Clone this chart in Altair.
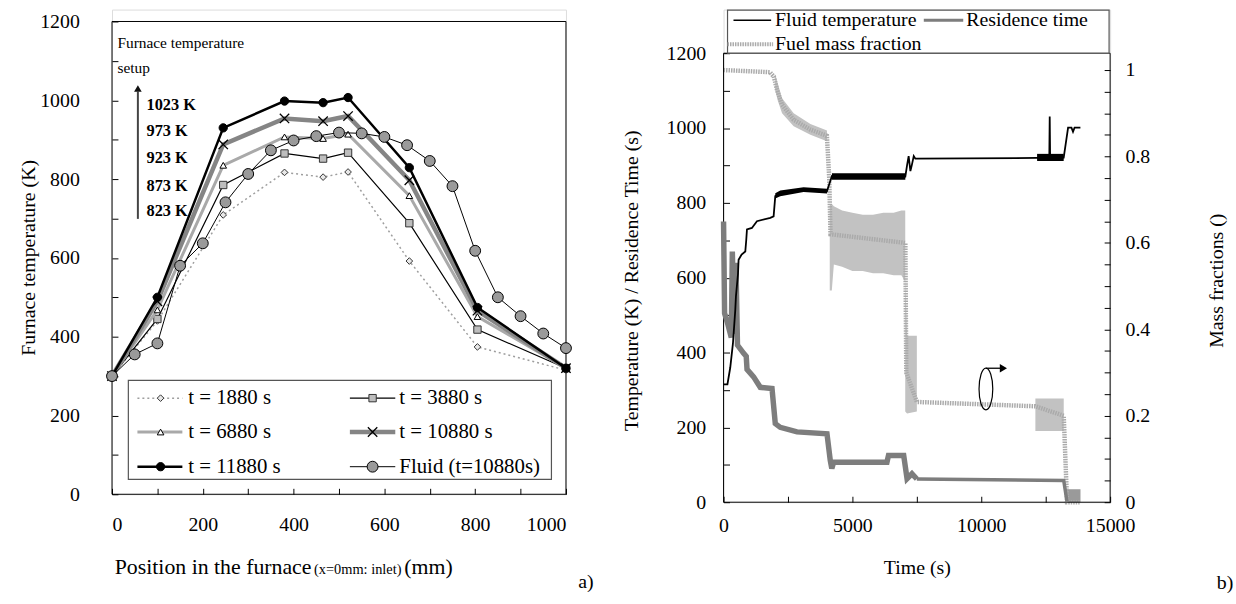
import altair as alt
import pandas as pd

FONT = "Liberation Serif"

# ======================= panel a) values =======================
positions = [0, 100, 245, 380, 465, 520, 655, 805, 1000]
temp_1880 = [300, 440, 709, 817, 805, 818, 592, 374, 315]
temp_3880 = [300, 445, 785, 865, 852, 867, 688, 418, 320]
temp_6880 = [300, 468, 835, 907, 903, 914, 758, 451, 320]
temp_10880 = [300, 490, 888, 954, 947, 960, 797, 466, 320]
temp_11880 = [300, 500, 930, 998, 994, 1007, 829, 474, 320]
fluid_positions = [0, 50, 100, 150, 200, 250, 300, 350, 400, 450, 500,
                   550, 600, 650, 700, 750, 800, 850, 900, 950, 1000]
fluid_temperature = [300, 355, 383, 580, 637, 741, 813, 873, 898, 909, 918,
                     916, 907, 886, 846, 782, 618, 500, 452, 408, 371]
series_labels = ["t = 1880 s", "t = 3880 s", "t = 6880 s",
                 "t = 10880 s", "t = 11880 s", "Fluid (t=10880s)"]
setup_labels = ["1023 K", "973 K", "923 K", "873 K", "823 K"]
setup_title = ["Furnace temperature", "setup"]
xa_title_parts = ["Position in the furnace", "(x=0mm: inlet)", "(mm)"]

# ======================= panel b) values =======================
temp_time = [0, 150, 260, 365, 455, 480, 560, 583, 700, 843, 880, 908, 1100, 1295,
             1813, 1942, 2007, 2200, 2600, 3105, 3500, 4013, 4100, 4207, 7053, 7120,
             7182, 7250, 7312, 7380, 7442, 12166, 12640, 12656, 12672, 13199, 13369,
             13500, 13560, 13620, 13847]
temp_value = [315, 315, 360, 425, 514, 550, 610, 648, 662, 670, 700, 729, 733, 751,
              760, 764, 818, 825, 830, 836, 834, 831, 850, 872, 870, 900,
              925, 885, 903, 925, 918, 920, 920, 1031, 920, 921, 1001,
              1001, 990, 1001, 1001]
temp_noise_seg = [0, 0, 0, 0, 1, 1, 2, 2]
temp_noise_time = [2007, 2200, 3105, 4013, 4207, 7053, 12166, 13199]
temp_noise_low = [812, 818, 829, 825, 862, 862, 912, 912]
temp_noise_high = [826, 833, 842, 838, 879, 879, 931, 931]

res_time = [0, 40, 150, 300, 340, 420, 480, 540, 780, 880, 910, 1165, 1425, 1880, 2007,
            2200, 2850, 4013, 4140, 4200, 4270, 6340, 6400, 6990, 7120, 7310, 7500,
            13200, 13330]
res_value = [750, 505, 480, 440, 670, 450, 640, 420, 398, 390, 355, 335, 307, 304, 210,
             200, 188, 183, 112, 90, 107, 107, 125, 125, 63, 76, 62,
             58, 0]

fuel_time = [0, 1800, 1950, 2070, 2270, 2720, 3370, 4010, 4100, 4150, 7055, 7090,
             7500, 12100, 13200, 13330, 13850]
fuel_frac = [1.0, 0.995, 0.985, 0.955, 0.92, 0.885, 0.862, 0.848, 0.75, 0.62, 0.6, 0.30,
             0.232, 0.222, 0.2, 0.0, 0.0]
fuel_band_seg = [1] * 6 + [2] * 11 + [3] * 3 + [4] * 2
fuel_band_time = [2000, 2100, 2270, 2720, 3370, 4013,
                  4120, 4200, 4280, 4600, 5000, 5400, 5800, 6200, 6600, 6900, 7050,
                  7050, 7120, 7500,
                  12100, 13200]
fuel_band_low = [0.955, 0.93, 0.90, 0.87, 0.85, 0.835,
                 0.49, 0.49, 0.55, 0.545, 0.535, 0.535, 0.53, 0.53, 0.525, 0.525, 0.51,
                 0.21, 0.205, 0.21,
                 0.165, 0.165]
fuel_band_high = [0.99, 0.97, 0.935, 0.90, 0.875, 0.86,
                  0.69, 0.69, 0.685, 0.675, 0.67, 0.665, 0.665, 0.67, 0.67, 0.675, 0.675,
                  0.52, 0.385, 0.385,
                  0.24, 0.24]
tail_time = [13330, 13850]
tail_low = [0.0, 0.0]
tail_high = [0.03, 0.03]
b_legend_labels = ["Fluid temperature", "Residence time", "Fuel mass fraction"]
b_axis_titles = ["Time (s)", "Temperature (K) / Residence Time (s)", "Mass fractions ()"]

# ======================= styles & layout =======================
X_SHAPE = "M-1,-1L1,1M-1,1L1,-1"
ELLIPSE = "M0,-1A0.33,1 0 1,1 0,1A0.33,1 0 1,1 0,-1Z"
STYLE = {
    "t = 1880 s": dict(color="#9e9e9e", width=1.5, dash=[2, 3], shape="diamond",
                       msize=45, mfill="#e8e8e8", mstroke="#333333", mwidth=1),
    "t = 3880 s": dict(color="#000000", width=1.2, dash=None, shape="square",
                       msize=55, mfill="#bdbdbd", mstroke="#333333", mwidth=1),
    "t = 6880 s": dict(color="#a9a9a9", width=3, dash=None, shape="triangle-up",
                       msize=45, mfill="#ffffff", mstroke="#000000", mwidth=1),
    "t = 10880 s": dict(color="#858585", width=4.5, dash=None, shape=X_SHAPE,
                        msize=90, mfill=None, mstroke="#000000", mwidth=1.3),
    "t = 11880 s": dict(color="#000000", width=2.5, dash=None, shape="circle",
                        msize=70, mfill="#000000", mstroke="#000000", mwidth=1),
    "Fluid (t=10880s)": dict(color="#000000", width=1, dash=None, shape="circle",
                             msize=120, mfill="#9a9a9a", mstroke="#000000", mwidth=1),
}
A_W, A_H, A_YTOP = 458, 489, 1230.2
B_W, B_H, B_VTOP, B_FTOP = 390, 497, 1316.6, 1.1399
RES_FLAT_FROM = 7500   # residence-time trace is drawn thinner after this time


def axis(**kw):
    base = dict(domain=False, grid=False, ticks=True, tickSize=6, offset=-6,
                tickColor="black", tickWidth=1, labelFont=FONT, labelFontSize=20,
                labelColor="black", titleFont=FONT, titleFontSize=20,
                titleFontWeight="normal", titleColor="black", format="d")
    base.update(kw)
    return alt.Axis(**base)


EVERY200 = "datum.value % 200 === 0 ? datum.label : ''"

# ======================= panel a) =======================
XA = alt.X("x:Q", scale=alt.Scale(domain=[0, 1000], nice=False, zero=False),
           axis=axis(values=list(range(0, 1001, 100)), labelExpr=EVERY200,
                     labelPadding=21, title=None))
YA = alt.Y("y:Q", scale=alt.Scale(domain=[0, A_YTOP], nice=False),
           axis=axis(values=list(range(0, 1201, 100)), labelExpr=EVERY200,
                     labelPadding=33, labelFlush=False, title="Furnace temperature (K)",
                     titlePadding=1, titleY=250))

a_layers = []
a_layers.append(alt.Chart(pd.DataFrame({"x": [0], "x2": [1000], "y": [0], "y2": [1200]}))
                .mark_rect(fill="white", fillOpacity=0, stroke="black", strokeWidth=1)
                .encode(x=XA, x2="x2:Q", y=YA, y2="y2:Q"))

series_values = [temp_1880, temp_3880, temp_6880, temp_10880, temp_11880, fluid_temperature]
series_x = [positions] * 5 + [fluid_positions]


def line_kw(st):
    kw = dict(color=st["color"], strokeWidth=st["width"])
    if st["dash"]:
        kw["strokeDash"] = st["dash"]
    return kw


def point_kw(st):
    kw = dict(shape=st["shape"], size=st["msize"], stroke=st["mstroke"],
              strokeWidth=st["mwidth"], opacity=1)
    if st["mfill"]:
        kw.update(filled=True, fill=st["mfill"], fillOpacity=1)
    else:
        kw.update(filled=False)
    return kw


for lab, xs, ys in zip(series_labels, series_x, series_values):
    st = STYLE[lab]
    df = pd.DataFrame({"x": xs, "y": ys})
    a_layers.append(alt.Chart(df).mark_line(**line_kw(st)).encode(x=XA, y=YA))
    a_layers.append(alt.Chart(df).mark_point(**point_kw(st)).encode(x=XA, y=YA))

# legend of panel a (positions in data units)
a_layers.append(alt.Chart(pd.DataFrame({"x": [36], "x2": [968], "y": [38], "y2": [289]}))
                .mark_rect(fill="white", stroke="#555555", strokeWidth=1.2)
                .encode(x=XA, x2="x2:Q", y=YA, y2="y2:Q"))
leg_rows = [244, 158, 70]
leg_cols = [dict(x0=56, x1=155, xm=107, xt=168), dict(x0=524, x1=624, xm=574, xt=633)]
for i, lab in enumerate(series_labels):
    st = STYLE[lab]
    c = leg_cols[i % 2]
    ry = leg_rows[i // 2]
    a_layers.append(alt.Chart(pd.DataFrame({"x": [c["x0"]], "x2": [c["x1"]], "y": [ry]}))
                    .mark_rule(**line_kw(st)).encode(x=XA, x2="x2:Q", y=YA))
    a_layers.append(alt.Chart(pd.DataFrame({"x": [c["xm"]], "y": [ry]}))
                    .mark_point(**point_kw(st)).encode(x=XA, y=YA))
    a_layers.append(alt.Chart(pd.DataFrame({"x": [c["xt"]], "y": [ry], "label": [lab]}))
                    .mark_text(align="left", baseline="middle", font=FONT, fontSize=21,
                               color="black")
                    .encode(x=XA, y=YA, text="label:N"))

# furnace setup annotation
a_layers.append(alt.Chart(pd.DataFrame({"x": [12, 12], "y": [1145, 1082], "label": setup_title}))
                .mark_text(align="left", baseline="middle", font=FONT, fontSize=15.5,
                           color="black")
                .encode(x=XA, y=YA, text="label:N"))
a_layers.append(alt.Chart(pd.DataFrame({"x": [57], "y": [699], "y2": [1022]}))
                .mark_rule(color="#444444", strokeWidth=2).encode(x=XA, y=YA, y2="y2:Q"))
a_layers.append(alt.Chart(pd.DataFrame({"x": [57], "y": [1030]}))
                .mark_point(shape="triangle-up", size=60, filled=True, fill="#111111",
                            opacity=1, strokeWidth=0)
                .encode(x=XA, y=YA))
a_layers.append(alt.Chart(pd.DataFrame({"x": [76] * 5, "y": [987, 922, 853, 783, 718],
                                        "label": setup_labels}))
                .mark_text(align="left", baseline="middle", font=FONT, fontSize=16.5,
                           fontWeight="bold", color="black")
                .encode(x=XA, y=YA, text="label:N"))

# x title (mixed sizes) and panel tag
a_layers.append(alt.Chart(pd.DataFrame({"x": [6], "y": [-203], "label": [xa_title_parts[0]]}))
                .mark_text(align="left", baseline="alphabetic", font=FONT, fontSize=22,
                           color="black").encode(x=XA, y=YA, text="label:N"))
a_layers.append(alt.Chart(pd.DataFrame({"x": [445], "y": [-203], "label": [xa_title_parts[1]]}))
                .mark_text(align="left", baseline="alphabetic", font=FONT, fontSize=14.5,
                           color="black").encode(x=XA, y=YA, text="label:N"))
a_layers.append(alt.Chart(pd.DataFrame({"x": [644], "y": [-203], "label": [xa_title_parts[2]]}))
                .mark_text(align="left", baseline="alphabetic", font=FONT, fontSize=22,
                           color="black").encode(x=XA, y=YA, text="label:N"))
a_layers.append(alt.Chart(pd.DataFrame({"x": [1027], "y": [-224], "label": ["a)"]}))
                .mark_text(align="left", baseline="middle", font=FONT, fontSize=20,
                           color="black").encode(x=XA, y=YA, text="label:N"))

panel_a = alt.layer(*a_layers).properties(width=A_W, height=A_H)

# ======================= panel b) =======================
XB = alt.X("t:Q", scale=alt.Scale(domain=[0, 15000], nice=False, zero=False),
           axis=axis(values=list(range(0, 15001, 2500)),
                     labelExpr="datum.value % 5000 === 0 ? datum.label : ''",
                     labelPadding=14, labelFlush=False, title=b_axis_titles[0],
                     titlePadding=22))
YBL = alt.Y("v:Q", scale=alt.Scale(domain=[0, B_VTOP], nice=False),
            axis=axis(orient="left", values=list(range(0, 1201, 100)), labelExpr=EVERY200,
                      labelPadding=18, labelFlush=False, title=b_axis_titles[1],
                      titlePadding=25, titleY=273))
frac_ticks = [round(i * 0.05, 2) for i in range(21)]
YBR = alt.Y("f:Q", scale=alt.Scale(domain=[0, B_FTOP], nice=False),
            axis=axis(orient="right", values=frac_ticks, format="~g", labelFlush=False,
                      labelExpr="abs(datum.value * 5 - round(datum.value * 5)) < 0.001 ? datum.label : ''",
                      labelPadding=15, title=b_axis_titles[2], titlePadding=77,
                      titleAngle=-90, titleY=273))

FUEL_COLOR = "#aaaaaa"
r_layers = []
band_df = pd.DataFrame({"t": fuel_band_time, "f": fuel_band_low, "f2": fuel_band_high,
                        "seg": fuel_band_seg})
r_layers.append(alt.Chart(band_df).mark_area(color="#c2c2c2", opacity=1)
                .encode(x=XB, y=YBR, y2="f2:Q", detail="seg:N"))
tail_df = pd.DataFrame({"t": tail_time, "f": tail_low, "f2": tail_high})
r_layers.append(alt.Chart(tail_df).mark_area(color="#9a9a9a", opacity=1)
                .encode(x=XB, y=YBR, y2="f2:Q"))
r_layers.append(alt.Chart(pd.DataFrame({"t": fuel_time, "f": fuel_frac}))
                .mark_line(color=FUEL_COLOR, strokeWidth=4.5, strokeDash=[1.5, 1])
                .encode(x=XB, y=YBR))
r_layers.append(alt.Chart(pd.DataFrame({"t": [10180], "f": [0.262]}))
                .mark_point(shape=ELLIPSE, size=1764, filled=False, stroke="black",
                            strokeWidth=1.2, opacity=1)
                .encode(x=XB, y=YBR))
r_layers.append(alt.Chart(pd.DataFrame({"t": [10180], "t2": [10760], "f": [0.31]}))
                .mark_rule(color="black", strokeWidth=1.3).encode(x=XB, x2="t2:Q", y=YBR))
r_layers.append(alt.Chart(pd.DataFrame({"t": [10860], "f": [0.31]}))
                .mark_point(shape="triangle-right", size=70, filled=True, fill="black",
                            opacity=1, strokeWidth=0)
                .encode(x=XB, y=YBR))
right_group = alt.layer(*r_layers)

res_df = pd.DataFrame({"t": res_time, "v": res_value})
l_layers = []
l_layers.append(alt.Chart(pd.DataFrame({"t": [0], "t2": [15000], "v": [0], "v2": [1200]}))
                .mark_rect(fill="white", fillOpacity=0, stroke="black", strokeWidth=1)
                .encode(x=XB, x2="t2:Q", y=YBL, y2="v2:Q"))
l_layers.append(alt.Chart(res_df[res_df.t <= RES_FLAT_FROM])
                .mark_line(color="#7d7d7d", strokeWidth=5.5)
                .encode(x=XB, y=YBL))
l_layers.append(alt.Chart(res_df[res_df.t >= RES_FLAT_FROM])
                .mark_line(color="#7d7d7d", strokeWidth=3.5)
                .encode(x=XB, y=YBL))
noise_df = pd.DataFrame({"t": temp_noise_time, "v": temp_noise_low, "v2": temp_noise_high,
                         "seg": temp_noise_seg})
l_layers.append(alt.Chart(noise_df).mark_area(color="black", opacity=1)
                .encode(x=XB, y=YBL, y2="v2:Q", detail="seg:N"))
l_layers.append(alt.Chart(pd.DataFrame({"t": temp_time, "v": temp_value}))
                .mark_line(color="black", strokeWidth=1.8)
                .encode(x=XB, y=YBL))
# legend of panel b
l_layers.append(alt.Chart(pd.DataFrame({"t": [154], "t2": [14960], "v": [1200], "v2": [1315]}))
                .mark_rect(fill="white", stroke="#555555", strokeWidth=1.2)
                .encode(x=XB, x2="t2:Q", y=YBL, y2="v2:Q"))
l_layers.append(alt.Chart(pd.DataFrame({"t": [385], "t2": [1846], "v": [1288]}))
                .mark_rule(color="black", strokeWidth=1.5).encode(x=XB, x2="t2:Q", y=YBL))
l_layers.append(alt.Chart(pd.DataFrame({"t": [7770], "t2": [9300], "v": [1288]}))
                .mark_rule(color="#7d7d7d", strokeWidth=3).encode(x=XB, x2="t2:Q", y=YBL))
l_layers.append(alt.Chart(pd.DataFrame({"t": [154], "t2": [1923], "v": [1224]}))
                .mark_rule(color=FUEL_COLOR, strokeWidth=4, strokeDash=[1.5, 1])
                .encode(x=XB, x2="t2:Q", y=YBL))
l_layers.append(alt.Chart(pd.DataFrame({"t": [2000, 9420, 2000], "v": [1288, 1288, 1224],
                                        "label": b_legend_labels}))
                .mark_text(align="left", baseline="middle", font=FONT, fontSize=20,
                           color="black")
                .encode(x=XB, y=YBL, text="label:N"))
l_layers.append(alt.Chart(pd.DataFrame({"t": [19140], "v": [-215], "label": ["b)"]}))
                .mark_text(align="left", baseline="middle", font=FONT, fontSize=20,
                           color="black").encode(x=XB, y=YBL, text="label:N"))
left_group = alt.layer(*l_layers)

panel_b = (alt.layer(right_group, left_group)
           .resolve_scale(y="independent")
           .properties(width=B_W, height=B_H))

chart = (alt.hconcat(panel_a, panel_b, spacing=159, bounds="flush")
         .properties(padding={"left": 18, "top": 6, "right": 2, "bottom": 5})
         .configure_view(strokeWidth=0)
         .configure(font=FONT, background="white"))

chart.save("out.html", embed_options={"renderer": "svg", "actions": False})
